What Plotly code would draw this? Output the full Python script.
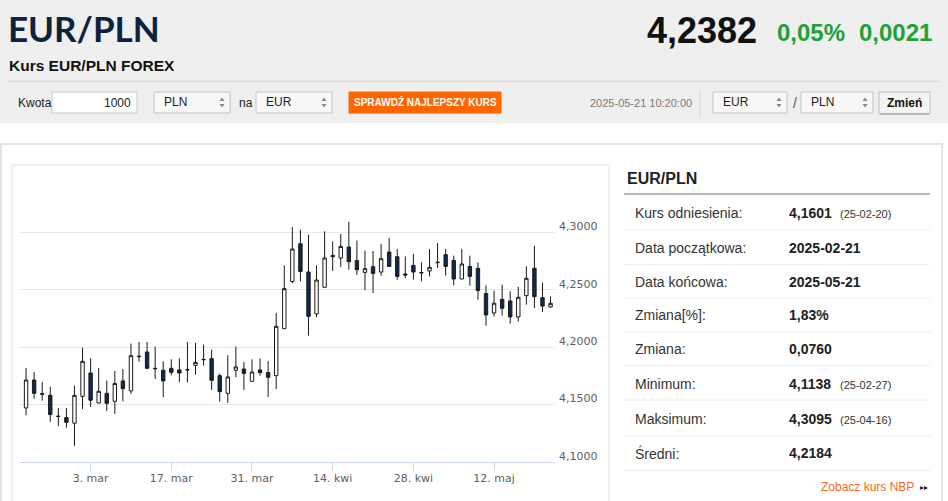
import plotly.graph_objects as go

# page size (the chart sits inside a screenshot of a quote page)
W, H = 948, 501

# daily EUR/PLN candles, 2025-02-19 .. 2025-05-21 (weekdays only)
opens = [4.1471, 4.1714, 4.1596, 4.1581, 4.1399, 4.1387, 4.1338, 4.1572, 4.1775, 4.1514,
         4.1598, 4.1529, 4.1706, 4.1619, 4.1921, 4.1958, 4.1816, 4.1799, 4.1816, 4.1802,
         4.1805, 4.1842, 4.1891, 4.1900, 4.1752, 4.1598, 4.1799, 4.1810, 4.1703, 4.1802,
         4.1779, 4.1752, 4.2161, 4.2573, 4.2901, 4.2655, 4.2290, 4.2522, 4.2800, 4.2777,
         4.2872, 4.2754, 4.2652, 4.2701, 4.2655, 4.2829, 4.2788, 4.2638, 4.2713, 4.2650,
         4.2664, 4.2736, 4.2806, 4.2756, 4.2594, 4.2704, 4.2687, 4.2467, 4.2298, 4.2417,
         4.2403, 4.2264, 4.2449, 4.2687, 4.2432, 4.2351]
highs = [4.1819, 4.1784, 4.1697, 4.1657, 4.1471, 4.1471, 4.1665, 4.1996, 4.1903, 4.1819,
         4.1709, 4.1793, 4.1810, 4.2031, 4.2045, 4.2045, 4.2005, 4.1877, 4.1894, 4.1903,
         4.2045, 4.2037, 4.2022, 4.1979, 4.1770, 4.1929, 4.2005, 4.1871, 4.1894, 4.1903,
         4.1880, 4.2298, 4.2713, 4.3046, 4.3023, 4.2980, 4.2713, 4.3009, 4.2922, 4.2986,
         4.3093, 4.2928, 4.2841, 4.2838, 4.2901, 4.2951, 4.2855, 4.2791, 4.2814, 4.2739,
         4.2855, 4.2907, 4.2855, 4.2797, 4.2855, 4.2797, 4.2739, 4.2539, 4.2493, 4.2545,
         4.2487, 4.2525, 4.2704, 4.2884, 4.2562, 4.2443]
lows = [4.1407, 4.1552, 4.1535, 4.1349, 4.1312, 4.1299, 4.1140, 4.1462, 4.1480, 4.1512,
        4.1445, 4.1418, 4.1529, 4.1593, 4.1874, 4.1812, 4.1723, 4.1564, 4.1755, 4.1694,
        4.1694, 4.1761, 4.1839, 4.1627, 4.1526, 4.1517, 4.1738, 4.1627, 4.1701, 4.1752,
        4.1567, 4.1636, 4.2159, 4.2559, 4.2573, 4.2101, 4.2261, 4.2520, 4.2664, 4.2698,
        4.2675, 4.2629, 4.2496, 4.2472, 4.2623, 4.2700, 4.2588, 4.2603, 4.2588, 4.2574,
        4.2617, 4.2690, 4.2623, 4.2539, 4.2592, 4.2536, 4.2414, 4.2188, 4.2269, 4.2275,
        4.2206, 4.2223, 4.2371, 4.2342, 4.2307, 4.2345]
closes = [4.1714, 4.1598, 4.1591, 4.1413, 4.1397, 4.1346, 4.1581, 4.1877, 4.1538, 4.1616,
          4.1511, 4.1683, 4.1639, 4.1926, 4.1918, 4.1816, 4.1813, 4.1706, 4.1781, 4.1775,
          4.1803, 4.1868, 4.1893, 4.1712, 4.1613, 4.1741, 4.1828, 4.1772, 4.1784, 4.1779,
          4.1738, 4.2182, 4.2510, 4.2855, 4.2660, 4.2269, 4.2585, 4.2777, 4.2788, 4.2878,
          4.2745, 4.2675, 4.2684, 4.2643, 4.2771, 4.2704, 4.2617, 4.2629, 4.2655, 4.2648,
          4.2696, 4.2740, 4.2704, 4.2594, 4.2725, 4.2617, 4.2493, 4.2281, 4.2383, 4.2339,
          4.2264, 4.2435, 4.2600, 4.2440, 4.2359, 4.2382]
day_idx = list(range(len(closes)))

tick_pos = [8, 18, 28, 38, 48, 58]
tick_labels = ["3. mar", "17. mar", "31. mar", "14. kwi", "28. kwi", "12. maj"]
y_ticks = [4.10, 4.15, 4.20, 4.25, 4.30, 4.35]

# side table
row_labels = ["Kurs odniesienia:", "Data początkowa:", "Data końcowa:", "Zmiana[%]:",
              "Zmiana:", "Minimum:", "Maksimum:", "Średni:"]
row_values = ["4,1601", "2025-02-21", "2025-05-21", "1,83%", "0,0760", "4,1138", "4,3095", "4,2184"]
row_notes = ["(25-02-20)", "", "", "", "", "(25-02-27)", "(25-04-16)", ""]


def px(x):
    return x / W


def py(y):
    return 1 - y / H


def box(x0, y0, x1, y1, fill=None, line="#cccccc", lw=1):
    return dict(type="rect", xref="paper", yref="paper",
                x0=px(x0), x1=px(x1), y0=py(y1), y1=py(y0),
                fillcolor=fill if fill else "rgba(0,0,0,0)",
                line=dict(color=line, width=lw), layer="below")


def hline(x0, x1, y, color, lw=1):
    return dict(type="line", xref="paper", yref="paper",
                x0=px(x0), x1=px(x1), y0=py(y), y1=py(y),
                line=dict(color=color, width=lw), layer="below")


def tri(cx, ytip, ybase, color="#888888"):
    # small select-box arrow
    path = f"M {px(cx - 2.5)},{py(ybase)} L {px(cx + 2.5)},{py(ybase)} L {px(cx)},{py(ytip)} Z"
    return dict(type="path", xref="paper", yref="paper", path=path,
                fillcolor=color, line=dict(width=0))


def txt(s, x, y, size=12, color="#222222", anchor="left", bold=False, family="Liberation Sans, Arial, sans-serif"):
    return dict(text=s, xref="paper", yref="paper", x=px(x), y=py(y),
                xanchor=anchor, yanchor="middle", showarrow=False,
                font=dict(size=size, color=color, family=family,
                          weight="bold" if bold else "normal"))


fig = go.Figure()
fig.add_trace(go.Candlestick(
    x=day_idx, open=opens, high=highs, low=lows, close=closes,
    increasing=dict(line=dict(color="#1a1a1a", width=1), fillcolor="#ffffff"),
    decreasing=dict(line=dict(color="#1a1a1a", width=1), fillcolor="#0c2a52"),
    hoverinfo="skip", showlegend=False,
))

shapes = [
    box(0, 0, W, 123, fill="#efefef", line="#efefef", lw=0),
    hline(8, 940, 81.5, "#d9d9d9", 1.5),
    # converter controls
    box(52, 92, 137, 113, fill="#ffffff", line="#c8c8c8"),
    box(154, 92, 230, 113, fill="#f8f8f8", line="#c4c4c4"),
    box(256, 92, 332, 113, fill="#f8f8f8", line="#c4c4c4"),
    box(349, 92, 501, 113, fill="#ff6600", line="#ff6600"),
    dict(type="line", xref="paper", yref="paper", x0=px(700), x1=px(700), y0=py(116), y1=py(90),
         line=dict(color="#d5d5d5", width=1)),
    box(713, 92, 787, 113, fill="#f8f8f8", line="#c4c4c4"),
    box(801, 92, 873, 113, fill="#f8f8f8", line="#c4c4c4"),
    box(879, 92, 930, 114, fill="#f4f4f4", line="#bdbdbd"),
    hline(880, 929, 114, "#9a9a9a", 1),
    # content frames
    box(1, 144, 942, 530, line="#e4e4e4", lw=2),
    box(12, 165, 609, 530, line="#ebebeb", lw=1.5),
    hline(624, 930, 194, "#a0a0a0", 1.5),
]
for sy in [230, 264.3, 298, 332, 365.5, 400, 436, 470.5]:
    shapes.append(hline(624, 930, sy, "#ececec", 1))
for ax in [222, 324, 779, 865]:
    shapes.append(tri(ax, 97.5, 101))
    shapes.append(tri(ax, 107.5, 104))

annos = [
    txt("EUR/PLN", 6, 28, size=35, color="#0c2340", bold=True, family="Lato, Liberation Sans, sans-serif"),
    txt("4,2382", 759, 31, size=36, color="#111111", anchor="right", bold=True),
    txt("0,05%", 775, 32, size=24, color="#22a038", bold=True),
    txt("0,0021", 934, 32, size=24, color="#22a038", anchor="right", bold=True),
    txt("Kurs EUR/PLN FOREX", 7, 65, size=15.5, color="#111111", bold=True),
    txt("Kwota", 16, 103, size=12),
    txt("1000", 133, 103, size=12, anchor="right"),
    txt("PLN", 162, 102, size=12),
    txt("na", 237, 103, size=12),
    txt("EUR", 264, 102, size=12),
    txt("SPRAWDŹ NAJLEPSZY KURS", 425, 102.5, size=10, color="#ffffff", anchor="center", bold=True),
    txt("2025-05-21 10:20:00", 641, 103, size=11, color="#777777", anchor="center"),
    txt("EUR", 721, 102, size=12),
    txt("/", 795, 103, size=14, color="#555555", anchor="center"),
    txt("PLN", 809, 102, size=12),
    txt("Zmień", 904.5, 103, size=12, color="#111111", anchor="center", bold=True),
    txt("EUR/PLN", 625, 178, size=16, color="#222222", bold=True),
    txt("Zobacz kurs NBP", 916, 487, size=12, color="#f26a1b", anchor="right"),
    txt("▸▸", 918, 487.5, size=8, color="#222222"),
]

row_y = [212.7, 247.5, 281.5, 315, 349.3, 383.5, 418.5, 453.3]
for lab, val, note, ry in zip(row_labels, row_values, row_notes, row_y):
    annos.append(txt(lab, 633, ry, size=14, color="#333333"))
    annos.append(txt(val, 787, ry, size=14, color="#222222", bold=True))
    if note:
        annos.append(txt(note, 838, ry + 1, size=11, color="#333333"))

fig.update_layout(
    width=W, height=H,
    margin=dict(l=0, r=0, t=0, b=0),
    paper_bgcolor="#ffffff", plot_bgcolor="#ffffff",
    separators=", ",
    boxgap=0.4,
    shapes=shapes,
    annotations=annos,
    font=dict(family="DejaVu Sans, sans-serif", size=11, color="#606060"),
    xaxis=dict(
        domain=[px(20), px(555)], range=[-0.75, 65.55],
        rangeslider=dict(visible=False),
        tickmode="array", tickvals=tick_pos, ticktext=tick_labels,
        showgrid=False, zeroline=False,
        showline=True, linecolor="#ccd6eb", linewidth=1,
        ticks="outside", ticklen=8, tickcolor="#ccd6eb",
        ticklabelstandoff=-2,
        tickfont=dict(size=11, color="#606060"),
    ),
    yaxis=dict(
        domain=[py(462), py(175)], range=[4.10, 4.35],
        side="right",
        tickmode="array", tickvals=y_ticks,
        ticktext=[f"{v:.4f}".replace(".", ",") if v < 4.33 else "" for v in y_ticks],
        showgrid=True, gridcolor="#e6e6e6", gridwidth=1,
        zeroline=False, showline=False, ticks="",
        ticklabelstandoff=3, ticklabelshift=-6,
        tickfont=dict(size=11, color="#606060"),
    ),
)

# the page's default 8px body margin would push the whole picture off the window
fig.write_html("out.html", config={"displayModeBar": False},
               post_script="document.body.style.margin='0';document.body.style.overflow='hidden';")
